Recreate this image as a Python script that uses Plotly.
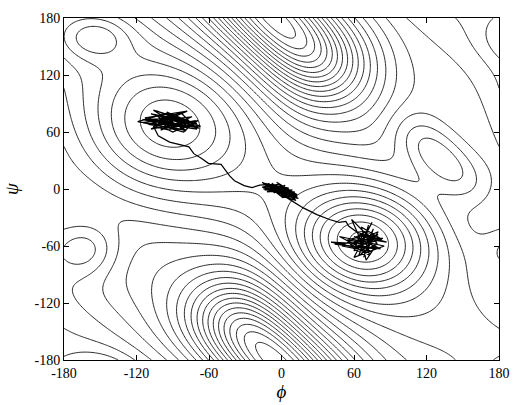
import numpy as np
import plotly.graph_objects as go

# ---- energy surface parameters (von Mises-type basins and barriers, degrees) ----
well_phi = [-88.0, -125.0, 68.0, -5.0, -155.0, -163.0, 133.0, 110.0]
well_psi = [72.0, 35.0, -55.0, 178.0, 160.0, -63.0, 31.0, 100.0]
well_amp = [-2.5, -2.5, -6.5, 10.0, -2.1, -2.2, -2.8, -1.3]
well_kphi = [2.0, 1.0, 2.2, 3.0, 7.0, 9.0, 8.0, 4.0]
well_kpsi = [2.0, 0.9, 2.2, 2.0, 11.0, 8.0, 6.0, 1.2]
well_kcross = [0.0, 0.0, 0.0, -2.0, 0.0, 0.0, -5.0, -1.0]
diag_amp = -1.6  # coefficient of cos(phi + psi)

# ---- trajectory (phi, psi) in degrees ----
basin1_phi = [-85, -100, -78, -108, -72, -95, -115, -82, -70, -104, -88, -119, -94, -76, -101, -68,
              -90, -110, -80, -97, -73, -106, -86, -112, -79, -92, -67, -99, -84, -103, -75, -96,
              -88, -107, -81, -71, -93, -100, -74, -110, -83, -70, -102, -78, -113, -90, -69, -98,
              -86, -108, -76, -95, -72, -104, -89, -116, -80, -93, -106]
basin1_psi = [70, 76, 72, 79, 67, 74, 73, 66, 69, 78, 63, 71, 80, 65, 72, 64,
              77, 68, 62, 75, 70, 83, 67, 74, 61, 79, 66, 70, 73, 82, 68, 64,
              76, 69, 60, 72, 67, 62, 76, 71, 80, 63, 69, 82, 75, 60, 72, 65,
              78, 63, 71, 81, 66, 72, 67, 70, 75, 62, 66]
path1_phi = [-102, -92.6, -76.6, -72.6, -66.1, -60.5, -50.0, -46.0, -42.9, -38.9, -30.9, -24.4, -18.0]
path1_psi = [56, 49.4, 44.4, 37.2, 32.1, 27.0, 26.0, 19.0, 13.8, 8.7, 3.6, 1.5, 3.6]
blob_phi = [-18, -10, -15, -5, -12, 0, -8, 4, -3, 8, -6, 2, 10, -1, 6, -14, -4, 12, 1, -9, 5, -16,
            -2, 9, 3, -11, 7, -7, 11, 0, -13, 4, -5, 13, 2, -10, 8, -1, 14, 6,
            -16, -6, 3, -12, 9, -2, 6, -8, 11, 0, -14, 5, -4, 13, 1, -10, 8, -6, 4, -15,
            10, -3, 7, -9, 2, 12, -1, -11, 5, -7, 12]
blob_psi = [4, 5, 0, 2, -1, 0, 4, -3, 3, -2, -2, 2, -7, -4, 1, 6, -1, -5, -6, 1, -4, 2,
            5, -8, 0, 3, -6, -3, -3, -2, 5, -7, 4, -8, -4, -2, -5, 1, -10, -8,
            7, -4, 4, -3, -1, -6, -10, 6, -11, 3, -1, -2, 7, -6, -9, 2, -12, 1, -5, 5,
            -4, -2, -9, -1, -1, -12, -7, 6, -8, 2, -9]
path2_phi = [7.6, 18.0, 29.3, 39.7, 47.7, 53.3, 55.5]
path2_psi = [-11.7, -19.9, -27.0, -32.1, -35.2, -34.2, -39.0]
basin2_phi = [62, 72, 58, 66, 80, 63, 41, 70, 76, 68, 73, 87, 65, 60, 78, 70, 66, 84, 62, 74, 50,
              69, 79, 64, 72, 67, 82, 60, 75, 44, 71, 77, 65, 75, 60, 85, 48, 70, 80, 57, 73,
              66, 83, 62, 77, 69, 54, 71]
basin2_psi = [-45, -50, -32, -55, -48, -62, -56, -58, -42, -72, -53, -56, -48, -65, -60, -75, -50,
              -52, -55, -66, -60, -45, -57, -70, -38, -60, -63, -50, -55, -58, -62, -48, -58, -35,
              -72, -60, -50, -65, -45, -58, -70, -40, -53, -60, -63, -48, -54, -56]

tick_vals = [-180, -120, -60, 0, 60, 120, 180]
tick_text = ["-180", "-120", "-60", "0", "60", "120", "180"]

# ---- grid ----
phi = np.linspace(-180, 180, 241)
psi = np.linspace(-180, 180, 241)
P, S = np.meshgrid(np.radians(phi), np.radians(psi))
E = diag_amp * np.cos(P + S)
for p0, s0, a, kp, ks, kc in zip(well_phi, well_psi, well_amp, well_kphi, well_kpsi, well_kcross):
    dp = P - np.radians(p0)
    ds = S - np.radians(s0)
    E += a * np.exp(kp * (np.cos(dp) - 1) + ks * (np.cos(ds) - 1) + kc * np.sin(dp) * np.sin(ds))

traj_phi = basin1_phi + path1_phi + blob_phi + path2_phi + basin2_phi
traj_psi = basin1_psi + path1_psi + blob_psi + path2_psi + basin2_psi

fig = go.Figure()
fig.add_trace(go.Contour(
    x=phi, y=psi, z=E,
    contours=dict(coloring="lines", start=-10.05, end=12, size=0.7),
    colorscale=[[0, "#111"], [1, "#111"]],
    line=dict(width=0.9, smoothing=1),
    showscale=False, hoverinfo="skip",
))
fig.add_trace(go.Scatter(
    x=traj_phi, y=traj_psi, mode="lines",
    line=dict(color="black", width=1.2), hoverinfo="skip",
))

serif = "Liberation Serif, Times New Roman, serif"
font = dict(family=serif, size=14, color="black")
axis_common = dict(
    range=[-180, 180], tickvals=tick_vals, ticktext=tick_text,
    ticks="inside", ticklen=5, tickcolor="black", mirror="allticks", showline=True,
    linecolor="black", linewidth=1, showgrid=False, zeroline=False,
    tickfont=font,
)
fig.update_layout(
    width=521, height=405,
    margin=dict(l=61, r=11, t=17, b=35),
    paper_bgcolor="white", plot_bgcolor="white",
    showlegend=False,
    xaxis=dict(**axis_common, title=dict(text="<i>ϕ</i>", font=dict(family=serif, size=19, color="black"), standoff=0)),
    yaxis=dict(**axis_common, title=dict(text="<i>ψ</i>", font=dict(family=serif, size=19, color="black"), standoff=10)),
)
fig.write_html("out.html")
